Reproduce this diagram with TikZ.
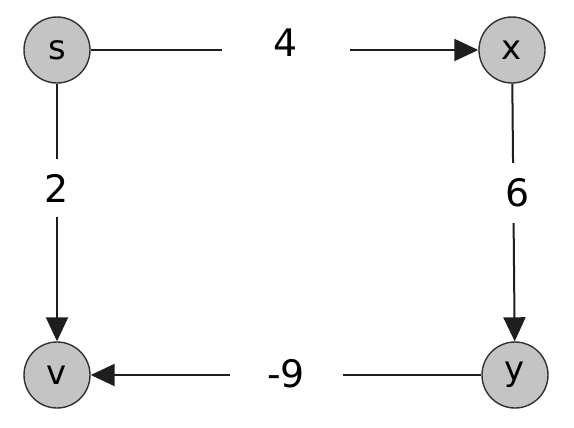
\documentclass[tikz,border=0pt]{standalone}
\usepackage{fontspec}
\setmainfont{DejaVu Sans}
\usetikzlibrary{arrows.meta}
\definecolor{nodefill}{RGB}{196,196,196}
\definecolor{nodeline}{RGB}{50,50,50}
\definecolor{edgecol}{RGB}{30,30,30}
\begin{document}
\begin{tikzpicture}[x=1bp,y=1bp,
  vert/.style={circle, draw=nodeline, line width=1.4bp, fill=nodefill,
    minimum size=66bp, inner sep=0pt, font=\fontsize{34}{40}\selectfont},
  edge/.style={line width=2bp, draw=edgecol,
    -{Triangle[length=24bp,width=22bp]}},
  wlabel/.style={fill=white, inner sep=0pt, text=black,
    font=\fontsize{38}{44}\selectfont}]
\path[use as bounding box, fill=white] (0,0) rectangle (574,427);
\node[vert] (s) at (57,377) {s};
\node[vert] (x) at (512,377) {x};
\node[vert] (v) at (57,52) {v};
\node[vert] (y) at (515,52) {y};
\draw[edge] (s) -- (x);
\draw[edge] (s) -- (v);
\draw[edge] (x) -- (y);
\draw[edge] (y) -- (v);
\node[wlabel, minimum width=128bp, minimum height=40bp] (l4) at (286,384) {4};
\node[wlabel, minimum width=30bp, minimum height=58bp] (l2) at (57,239) {2};
\node[wlabel, minimum width=30bp, minimum height=60bp] (l6) at (518,234) {6};
\node[wlabel, minimum width=113bp, minimum height=40bp] (l9) at (286,53) {-9};
\end{tikzpicture}
\end{document}
